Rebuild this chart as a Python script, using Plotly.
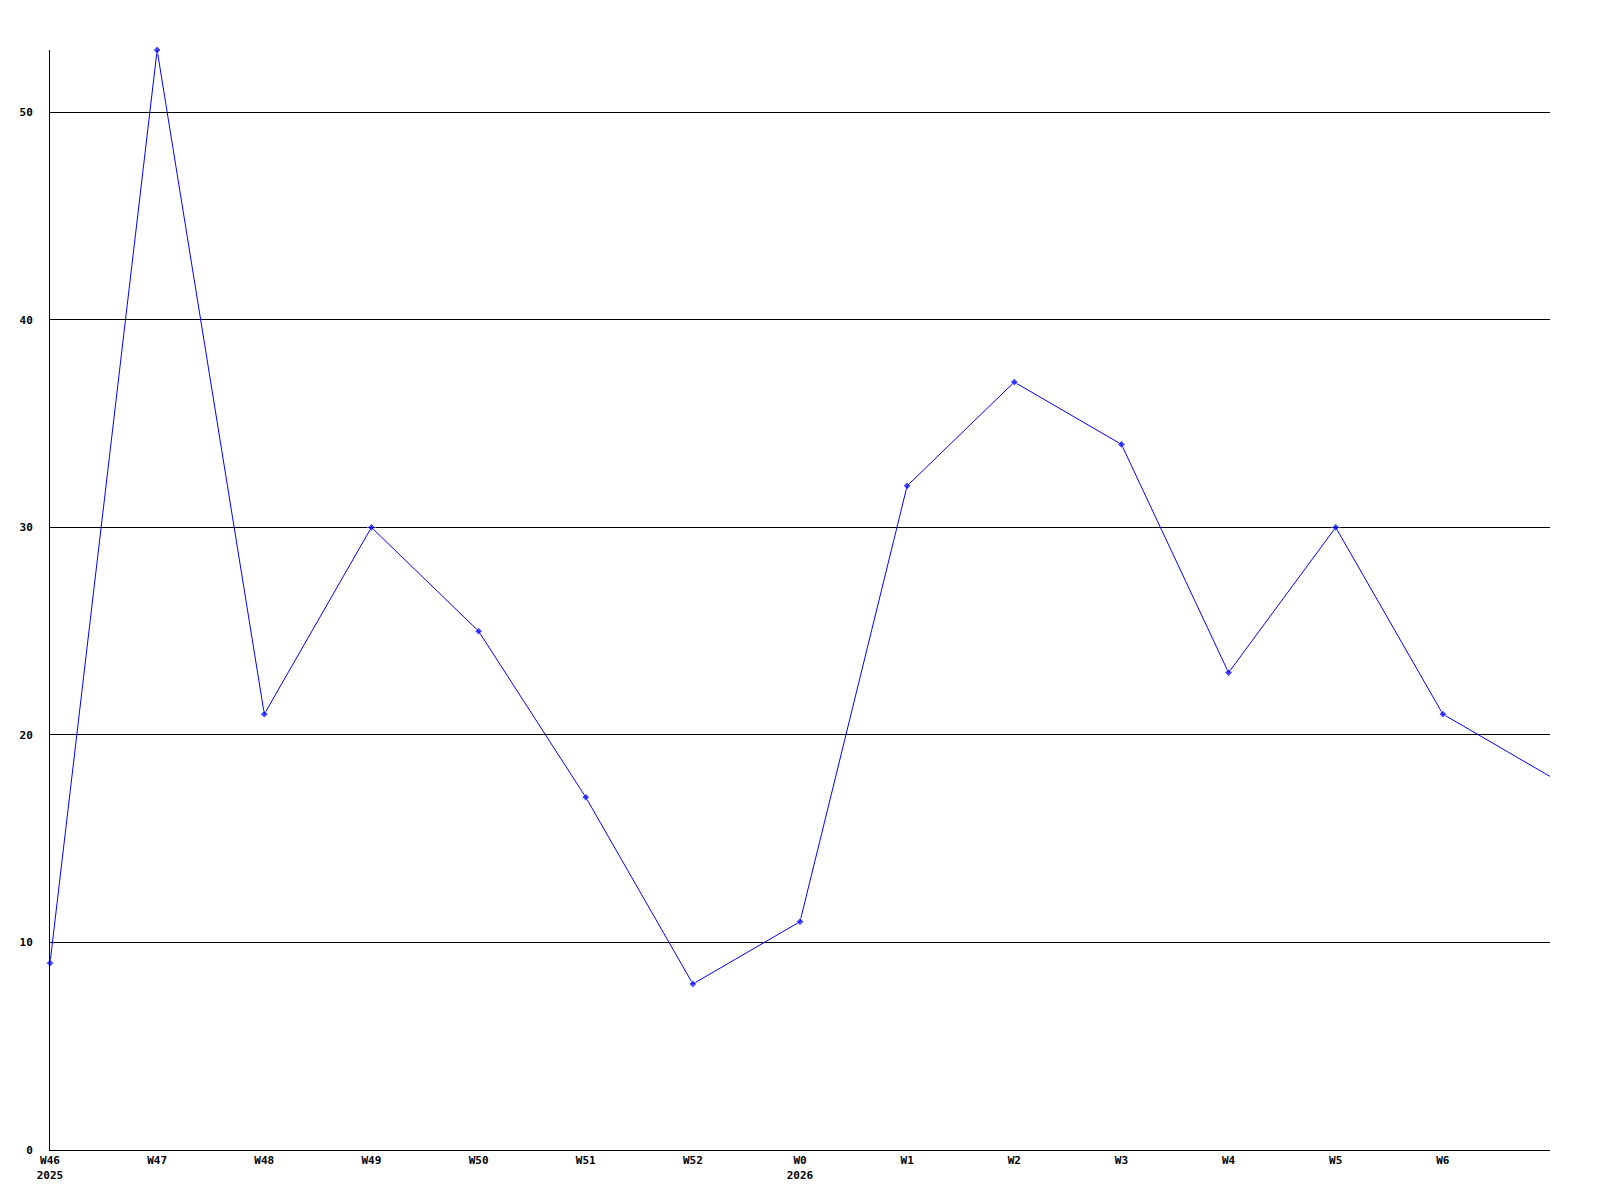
import plotly.graph_objects as go

week_labels = ["W46<br>2025", "W47", "W48", "W49", "W50", "W51", "W52",
               "W0<br>2026", "W1", "W2", "W3", "W4", "W5", "W6"]
values = [9, 53, 21, 30, 25, 17, 8, 11, 32, 37, 34, 23, 30, 21, 18]
y_ticks = [0, 10, 20, 30, 40, 50]

x_idx = list(range(len(values)))
marker_sizes = [6] * (len(values) - 1) + [0]

fig = go.Figure()
fig.add_trace(go.Scatter(
    x=x_idx, y=values, mode="lines+markers",
    line=dict(color="#0000FF", width=1),
    marker=dict(symbol="diamond", size=marker_sizes, color="#0000FF"),
    cliponaxis=False,
    hoverinfo="skip",
))

font = dict(family="DejaVu Sans Mono", size=11, color="#000000", weight="bold")

fig.update_layout(
    width=1592, height=1192,
    margin=dict(l=42, r=50, t=42, b=50, autoexpand=False),
    paper_bgcolor="white", plot_bgcolor="white",
    showlegend=False,
    font=font,
)
fig.update_xaxes(
    range=[0, len(values) - 1],
    tickmode="array",
    tickvals=list(range(len(week_labels))),
    ticktext=week_labels,
    showgrid=False, zeroline=False,
    showline=True, linecolor="#000000", linewidth=1,
    ticks="", tickfont=font,
)
fig.update_yaxes(
    range=[0, 53],
    tickmode="array", tickvals=y_ticks,
    showgrid=True, gridcolor="#000000", gridwidth=1,
    zeroline=False,
    showline=True, linecolor="#000000", linewidth=1,
    ticks="", ticklabelstandoff=14, tickfont=font,
)

fig.write_html("out.html")
